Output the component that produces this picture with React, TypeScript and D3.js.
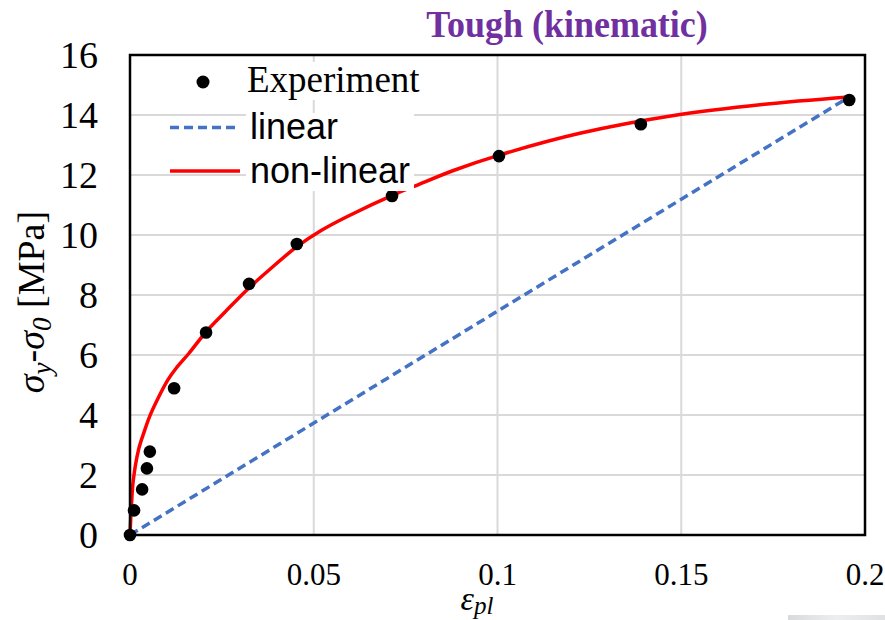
import React from "react";
import * as d3 from "d3";

// experimental hardening points (plastic strain, stress increase in MPa)
const expStrain = [0, 0.0011, 0.0033, 0.0046, 0.0054, 0.012, 0.0207, 0.0324, 0.0454, 0.0713, 0.1004, 0.139, 0.1957];
const expStress = [0, 0.82, 1.52, 2.22, 2.78, 4.89, 6.75, 8.37, 9.7, 11.3, 12.63, 13.69, 14.5];

// non-linear fit
const fitStrain = [0, 0.0004, 0.0009, 0.0023, 0.0038, 0.0053, 0.0076, 0.0103, 0.0125, 0.016, 0.0209, 0.026, 0.0318, 0.038, 0.0454, 0.052, 0.059, 0.0726, 0.0771, 0.088, 0.1007, 0.1224, 0.1488, 0.172, 0.1957];
const fitStress = [0, 1.0, 1.83, 2.83, 3.42, 3.94, 4.55, 5.17, 5.55, 6.05, 6.8, 7.45, 8.17, 8.85, 9.61, 10.15, 10.61, 11.39, 11.61, 12.15, 12.67, 13.39, 14.0, 14.35, 14.6];

// linear fit: straight line through origin and last point
const linStrain = [0, 0.1957];
const linStress = [0, 14.6];

const xTicks = [0, 0.05, 0.1, 0.15, 0.2];
const xTickLabels = ["0", "0.05", "0.1", "0.15", "0.2"];
const yTicks = [0, 2, 4, 6, 8, 10, 12, 14, 16];

const W = 885;
const H = 620;
const serif = "'Liberation Serif', 'Times New Roman', serif";
const sans = "'Liberation Sans', Arial, sans-serif";

export default function App() {
  const x = d3.scaleLinear().domain([0, 0.2]).range([130, 865]);
  const y = d3.scaleLinear().domain([0, 16]).range([535, 55]);

  const fitPts = fitStrain.map((s, i) => [s, fitStress[i]] as [number, number]);
  const linPts = linStrain.map((s, i) => [s, linStress[i]] as [number, number]);

  const fitPath =
    d3
      .line<[number, number]>()
      .x((d) => x(d[0]))
      .y((d) => y(d[1]))
      .curve(d3.curveCatmullRom.alpha(0.5))(fitPts) || "";
  const linPath =
    d3
      .line<[number, number]>()
      .x((d) => x(d[0]))
      .y((d) => y(d[1]))(linPts) || "";

  return (
    <svg
      width={W}
      height={H}
      style={{ position: "absolute", left: 0, top: 0, background: "#fff" }}
    >
      <defs>
        <linearGradient id="smudge" x1="0" x2="1" y1="0" y2="0">
          <stop offset="0" stopColor="#d8dadc" />
          <stop offset="0.5" stopColor="#eceeef" />
          <stop offset="1" stopColor="#dfe1e3" />
        </linearGradient>
      </defs>
      <rect width={W} height={H} fill="#fff" />

      {/* grid */}
      {xTicks.slice(1, -1).map((t) => (
        <line key={`gx${t}`} x1={x(t)} x2={x(t)} y1={y(16)} y2={y(0)} stroke="#d9d9d9" strokeWidth={2} />
      ))}
      {yTicks.slice(1, -1).map((t) => (
        <line key={`gy${t}`} x1={x(0)} x2={x(0.2)} y1={y(t)} y2={y(t)} stroke="#d9d9d9" strokeWidth={2} />
      ))}

      {/* series */}
      <path d={linPath} fill="none" stroke="#4472c4" strokeWidth={3.5} strokeDasharray="9,5" />
      <path d={fitPath} fill="none" stroke="#ff0000" strokeWidth={3.5} />
      {expStrain.map((s, i) => (
        <circle key={`p${i}`} cx={x(s)} cy={y(expStress[i])} r={6.3} fill="#000" />
      ))}

      {/* frame */}
      <rect
        x={x(0)}
        y={y(16)}
        width={x(0.2) - x(0)}
        height={y(0) - y(16)}
        fill="none"
        stroke="#000"
        strokeWidth={2.5}
      />

      {/* legend */}
      <rect x={246} y={62} width={174} height={38} fill="#fff" />
      <rect x={246} y={113} width={168} height={78} fill="#fff" />
      <circle cx={203} cy={82} r={6.5} fill="#000" />
      <text x={247} y={92} fontFamily={serif} fontSize={37}>
        Experiment
      </text>
      <line x1={170} x2={240} y1={127.5} y2={127.5} stroke="#4472c4" strokeWidth={3.5} strokeDasharray="9,5" />
      <text x={250} y={139} fontFamily={sans} fontSize={36}>
        linear
      </text>
      <line x1={170} x2={240} y1={171} y2={171} stroke="#ff0000" strokeWidth={3.5} />
      <text x={250} y={183} fontFamily={sans} fontSize={36}>
        non-linear
      </text>

      {/* axis tick labels */}
      {yTicks.map((t) => (
        <text key={`yl${t}`} x={98} y={y(t)} dy="0.35em" textAnchor="end" fontFamily={serif} fontSize={38}>
          {t}
        </text>
      ))}
      {xTicks.map((t, i) => (
        <text key={`xl${t}`} x={x(t)} y={585} textAnchor="middle" fontFamily={serif} fontSize={31}>
          {xTickLabels[i]}
        </text>
      ))}

      {/* axis titles */}
      <text x={477} y={610} textAnchor="middle" fontFamily={serif} fontSize={34} fontStyle="italic">
        ε<tspan fontSize={25} dy={4}>pl</tspan>
      </text>
      <text
        transform="translate(44,302) rotate(-90)"
        textAnchor="middle"
        fontFamily={serif}
        fontSize={38}
      >
        <tspan fontStyle="italic">σ</tspan>
        <tspan fontStyle="italic" fontSize={27} dy={7}>y</tspan>
        <tspan dy={-7}>-</tspan>
        <tspan fontStyle="italic">σ</tspan>
        <tspan fontStyle="italic" fontSize={27} dy={7}>0</tspan>
        <tspan dy={-7}> [MPa]</tspan>
      </text>

      {/* title */}
      <text
        transform="translate(567,37) scale(1,1.08)"
        textAnchor="middle"
        fontFamily={serif}
        fontWeight="bold"
        fontSize={36}
        fill="#7030a0"
      >
        Tough (kinematic)
      </text>

      <rect x={788} y={615} width={97} height={5} fill="url(#smudge)" />
    </svg>
  );
}
